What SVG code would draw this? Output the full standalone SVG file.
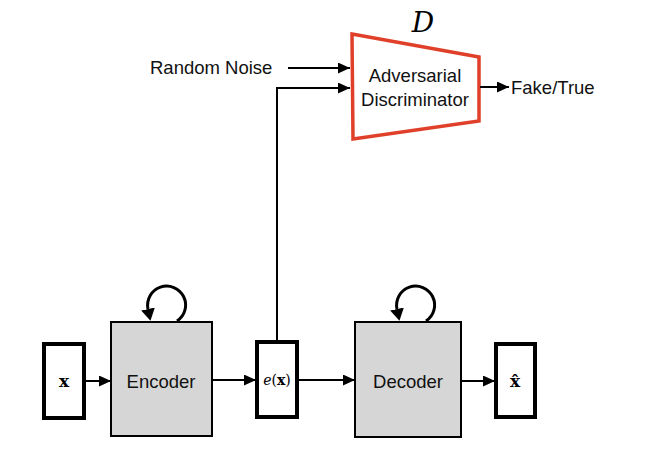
<svg xmlns="http://www.w3.org/2000/svg" width="650" height="462" viewBox="0 0 650 462">
<defs>
<marker id="ah" viewBox="0 0 12 11" refX="12" refY="5.5" markerWidth="12" markerHeight="11" markerUnits="userSpaceOnUse" orient="auto">
<path d="M0,0 L12,5.5 L0,11 z" fill="#000"/>
</marker>
<marker id="lh" viewBox="0 0 12 14" refX="0" refY="7" markerWidth="12" markerHeight="14" markerUnits="userSpaceOnUse" orient="auto">
<path d="M0,0 L12,7 L0,14 z" fill="#000"/>
</marker>
</defs>
<style>
.lbl{font-family:"Liberation Sans",Arial,sans-serif;font-size:18.5px;fill:#111}
.box{fill:#fff;stroke:#000;stroke-width:4}
.blk{fill:#d6d6d6;stroke:#000;stroke-width:2}
.ln{fill:none;stroke:#000;stroke-width:2}
.loop{fill:none;stroke:#000;stroke-width:3}
.math{font-family:"DejaVu Serif","Liberation Serif",serif;fill:#000}
</style>
<rect width="650" height="462" fill="#fff"/>
<g id="x">
<rect class="box" x="44" y="344" width="40" height="74"/>
<text class="math" x="64" y="387" font-size="17" font-weight="bold" text-anchor="middle">x</text>
</g>
<g id="encoder">
<rect class="blk" x="111" y="322" width="101" height="114"/>
<text class="lbl" x="161" y="388" text-anchor="middle">Encoder</text>
</g>
<g id="ex">
<rect class="box" x="257" y="342" width="40" height="75"/>
<text class="math" x="277" y="385" font-size="14" text-anchor="middle"><tspan font-style="italic">e</tspan>(<tspan font-weight="bold">x</tspan>)</text>
</g>
<g id="decoder">
<rect class="blk" x="355" y="322" width="106" height="115"/>
<text class="lbl" x="408" y="388" text-anchor="middle">Decoder</text>
</g>
<g id="xhat">
<rect class="box" x="496" y="344" width="39" height="73"/>
<text class="math" x="515" y="387" font-size="17" font-weight="bold" text-anchor="middle">x̂</text>
</g>
<g id="discriminator">
<polygon points="352,34 479,57 479,121 353,139" fill="#fff" stroke="#e0402a" stroke-width="3.5"/>
<text class="lbl" x="415" y="82" text-anchor="middle">Adversarial</text>
<text class="lbl" x="415" y="106" text-anchor="middle">Discriminator</text>
<text class="math" x="423" y="32" font-size="28" font-style="italic" text-anchor="middle" font-family="Liberation Serif, serif">D</text>
</g>
<g id="labels">
<text class="lbl" x="150" y="74">Random Noise</text>
<text class="lbl" x="511" y="94">Fake/True</text>
</g>
<g id="connectors">
<line class="ln" x1="86" y1="381" x2="111" y2="381" marker-end="url(#ah)"/>
<line class="ln" x1="212" y1="380" x2="256" y2="380" marker-end="url(#ah)"/>
<line class="ln" x1="299" y1="380" x2="355" y2="380" marker-end="url(#ah)"/>
<line class="ln" x1="461" y1="381" x2="495" y2="381" marker-end="url(#ah)"/>
<polyline class="ln" points="277,340 277,88 350,88" marker-end="url(#ah)"/>
<line class="ln" x1="288" y1="68" x2="350" y2="68" marker-end="url(#ah)"/>
<line class="ln" x1="480" y1="87" x2="509" y2="87" marker-end="url(#ah)"/>
<path class="loop" d="M177,321 A19,19 0 1 0 148,309" marker-end="url(#lh)"/>
<path class="loop" d="M426,321 A19,19 0 1 0 397,309" marker-end="url(#lh)"/>
</g>
</svg>
